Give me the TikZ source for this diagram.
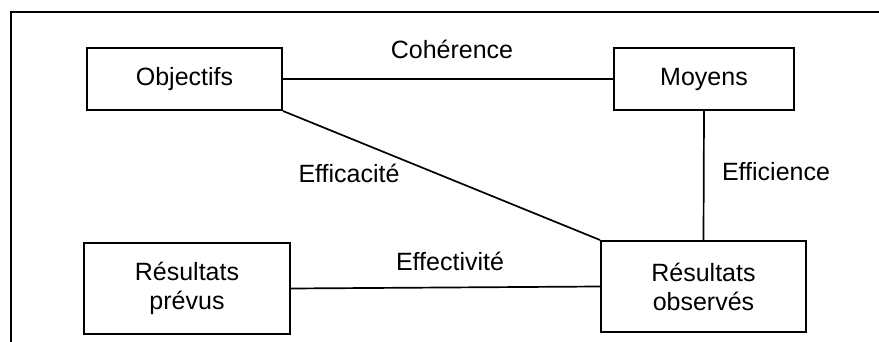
\documentclass[tikz,border=0pt]{standalone}
\usepackage{fontspec}
\setmainfont{Liberation Sans}
\begin{document}
\begin{tikzpicture}[x=1pt,y=-1pt,
  every node/.style={font=\fontsize{25}{29}\selectfont, inner sep=0pt},
  box/.style={draw, line width=2pt, rectangle, align=center},
  conn/.style={line width=1.7pt},
  lbl/.style={}]
\useasboundingbox (0,0) rectangle (879,342);
\draw[line width=2pt] (10.5,342) -- (10.5,12) -- (879,12);
\node[box, minimum width=195pt, minimum height=62pt] (obj) at (184.5,79) {Objectifs};
\node[box, minimum width=180pt, minimum height=62pt] (moy) at (704,79) {Moyens};
\node[box, minimum width=206pt, minimum height=91pt] (rp) at (187,288.5) {Résultats\\prévus};
\node[box, minimum width=205pt, minimum height=91pt] (ro) at (703.5,286.5) {Résultats\\observés};
\draw[conn] (obj.east) -- (moy.west);
\draw[conn] (moy.south) -- (ro.north);
\draw[conn] (obj.south east) -- (ro.north west);
\draw[conn] (rp.east) -- (ro.west);
\node[lbl] (coh) at (452,49) {Cohérence};
\node[lbl] (eca) at (349,173) {Efficacité};
\node[lbl] (eci) at (776,172) {Efficience};
\node[lbl] (eft) at (450,261) {Effectivité};
\end{tikzpicture}
\end{document}
